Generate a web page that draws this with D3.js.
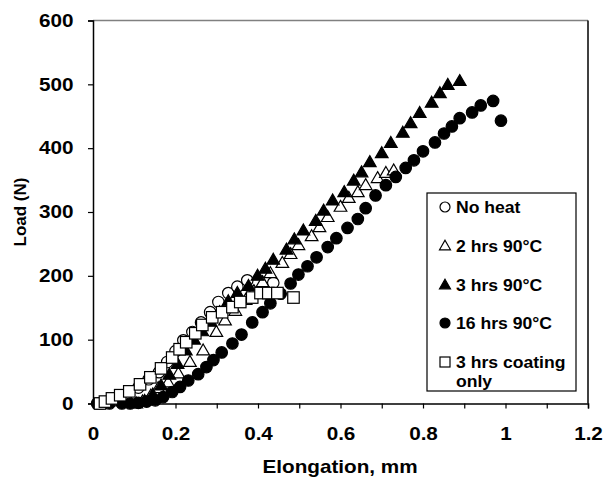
<!DOCTYPE html>
<html>
<head>
<meta charset="utf-8">
<script src="https://cdn.jsdelivr.net/npm/d3@7"></script>
<style>
  body { margin: 0; background: #fff; }
  text { font-family: Arial, "Liberation Sans", sans-serif; font-weight: bold; }
</style>
</head>
<body>
<div id="canvas"></div>
<script>
"use strict";

// ---- data ----
let noHeatX = [0.02, 0.05, 0.08, 0.11, 0.135, 0.16, 0.18, 0.20, 0.219, 0.241, 0.262, 0.284, 0.304, 0.328, 0.350, 0.374, 0.437];
let noHeatY = [0, 5, 12, 25, 38, 49, 65, 82, 99, 112, 127, 143, 159, 173, 183, 193, 189];

let twoHrsX = [0.12, 0.14, 0.158, 0.182, 0.207, 0.235, 0.267, 0.299, 0.32, 0.345, 0.37, 0.39, 0.411, 0.430, 0.459, 0.479, 0.498, 0.530, 0.549, 0.569, 0.600, 0.620, 0.642, 0.661, 0.690, 0.710, 0.729];
let twoHrsY = [3, 12, 24, 33, 47, 65, 83, 112, 130, 145, 162, 176, 190, 204, 220, 234, 248, 262, 276, 292, 308, 322, 331, 342, 353, 361, 365];

let threeHrsX = [0.105, 0.125, 0.145, 0.165, 0.185, 0.205, 0.225, 0.245, 0.265, 0.285, 0.307, 0.328, 0.350, 0.377, 0.399, 0.418, 0.437, 0.469, 0.488, 0.510, 0.540, 0.559, 0.581, 0.609, 0.632, 0.651, 0.671, 0.700, 0.722, 0.751, 0.770, 0.792, 0.821, 0.841, 0.860, 0.889];
let threeHrsY = [0, 4, 14, 28, 45, 62, 83, 100, 113, 128, 143, 160, 173, 184, 200, 211, 225, 241, 257, 271, 286, 302, 318, 331, 349, 362, 378, 392, 408, 424, 439, 455, 471, 486, 499, 505];

let sixteenHrsX = [0.01, 0.04, 0.07, 0.09, 0.11, 0.13, 0.151, 0.170, 0.192, 0.211, 0.231, 0.255, 0.275, 0.292, 0.312, 0.338, 0.36, 0.386, 0.411, 0.430, 0.455, 0.479, 0.498, 0.520, 0.542, 0.569, 0.590, 0.617, 0.642, 0.661, 0.685, 0.710, 0.734, 0.758, 0.778, 0.800, 0.829, 0.851, 0.870, 0.889, 0.919, 0.940, 0.970, 0.989];
let sixteenHrsY = [0, 0, 0, 0, 1, 3, 5, 10, 18, 26, 36, 46, 57, 68, 80, 94, 108, 127, 143, 157, 172, 188, 202, 215, 229, 245, 259, 275, 289, 306, 326, 342, 355, 369, 381, 395, 409, 423, 434, 447, 456, 467, 474, 443];

let coatingX = [0.017, 0.029, 0.046, 0.066, 0.088, 0.114, 0.139, 0.165, 0.192, 0.210, 0.226, 0.248, 0.265, 0.289, 0.313, 0.338, 0.357, 0.386, 0.406, 0.425, 0.447, 0.486];
let coatingY = [0, 3, 8, 13, 19, 30, 41, 55, 72, 85, 96, 110, 123, 135, 143, 151, 159, 166, 173, 173, 173, 166];

let seriesNames = ["No heat", "2 hrs 90°C", "3 hrs 90°C", "16 hrs 90°C", "3 hrs coating only"];
let xTicks = [0, 0.1, 0.2, 0.3, 0.4, 0.5, 0.6, 0.7, 0.8, 0.9, 1.0, 1.1, 1.2];
let yTicks = [0, 100, 200, 300, 400, 500, 600];

// ---- setup ----
let svgWidth = 603;
let svgHeight = 480;
let stretch = 1.15;   // the original lettering is a little wide

let svg = d3.select("#canvas")
    .append("svg")
    .attr("width", svgWidth)
    .attr("height", svgHeight);

let xScale = d3.scaleLinear().domain([0, 1.2]).range([93, 588]);
let yScale = d3.scaleLinear().domain([0, 600]).range([403.5, 20.5]);

function zip(xs, ys) {
    return xs.map((x, i) => ({ x: x, y: ys[i] }));
}

let series = [
    { name: seriesNames[0], shape: "circle", fill: "#fff", data: zip(noHeatX, noHeatY) },
    { name: seriesNames[1], shape: "triangle", fill: "#fff", data: zip(twoHrsX, twoHrsY) },
    { name: seriesNames[2], shape: "triangle", fill: "#000", data: zip(threeHrsX, threeHrsY) },
    { name: seriesNames[3], shape: "circle", fill: "#000", data: zip(sixteenHrsX, sixteenHrsY) },
    { name: seriesNames[4], shape: "square", fill: "#fff", data: zip(coatingX, coatingY) }
];

/* draw one marker */
function drawMarker(g, shape, cx, cy, size, fill) {
    if (shape === "circle") {
        g.append("circle")
            .attr("cx", cx).attr("cy", cy).attr("r", size / 2)
            .attr("fill", fill).attr("stroke", "#000").attr("stroke-width", 1.2);
    } else if (shape === "square") {
        g.append("rect")
            .attr("x", cx - size / 2).attr("y", cy - size / 2)
            .attr("width", size).attr("height", size)
            .attr("fill", fill).attr("stroke", "#000").attr("stroke-width", 1.2);
    } else {
        let w = size * 1.1;
        let h = size * 0.95;
        g.append("path")
            .attr("d", "M" + cx + "," + (cy - h * 0.6) +
                " L" + (cx + w / 2) + "," + (cy + h * 0.4) +
                " L" + (cx - w / 2) + "," + (cy + h * 0.4) + " Z")
            .attr("fill", fill).attr("stroke", "#000").attr("stroke-width", 1.2);
    }
}

/* ---- frame ---- */
svg.append("line")
    .attr("x1", xScale(0)).attr("x2", xScale(1.2))
    .attr("y1", yScale(600)).attr("y2", yScale(600))
    .attr("stroke", "#808080").attr("stroke-width", 1.5);
svg.append("line")
    .attr("x1", xScale(1.2)).attr("x2", xScale(1.2))
    .attr("y1", yScale(600)).attr("y2", yScale(0))
    .attr("stroke", "#000").attr("stroke-width", 1.5);

/* ---- axes ---- */
let xAxis = d3.axisBottom(xScale)
    .tickValues(xTicks)
    .tickSize(5)
    .tickPadding(19)
    .tickFormat(d => (Math.round(d * 10) % 2 === 0) ? String(+d.toFixed(1)) : "");

let gx = svg.append("g")
    .attr("transform", "translate(0," + yScale(0) + ")")
    .call(xAxis);

let yAxis = d3.axisLeft(yScale)
    .tickValues(yTicks)
    .tickSize(5)
    .tickPadding(14);

let gy = svg.append("g")
    .attr("transform", "translate(" + xScale(0) + ",0)")
    .call(yAxis);

[gx, gy].forEach(function (g) {
    g.select(".domain").attr("stroke", "#000").attr("stroke-width", 1.5);
    g.selectAll(".tick line").attr("stroke", "#000").attr("stroke-width", 1.2);
    g.selectAll("text")
        .attr("fill", "#000")
        .style("font-family", "Arial, 'Liberation Sans', sans-serif")
        .style("font-weight", "bold")
        .style("font-size", "18px");
});

gx.selectAll(".tick text").attr("transform", "scale(" + stretch + ",1)");
gy.selectAll(".tick text")
    .attr("x", -19.5 / stretch)
    .attr("transform", "scale(" + stretch + ",1)");

svg.append("text")
    .attr("transform", "translate(340,473) scale(" + stretch + ",1)")
    .attr("text-anchor", "middle")
    .attr("font-size", "18px")
    .text("Elongation, mm");

svg.append("text")
    .attr("transform", "translate(26,212) rotate(-90)")
    .attr("text-anchor", "middle")
    .attr("font-size", "17px")
    .text("Load (N)");

/* ---- markers ---- */
let markersLayer = svg.append("g");
series.forEach(function (s) {
    let g = markersLayer.append("g");
    s.data.forEach(function (d) {
        drawMarker(g, s.shape, xScale(d.x), yScale(d.y), 11.5, s.fill);
    });
});

/* ---- legend ---- */
let legendX = 427;
let legendY = 193;
let legendW = 149;
let legendH = 198;

svg.append("rect")
    .attr("x", legendX).attr("y", legendY)
    .attr("width", legendW).attr("height", legendH)
    .attr("fill", "#fff").attr("stroke", "#000").attr("stroke-width", 1.2);

let legendRows = [207, 246, 285, 323, 362];
series.forEach(function (s, i) {
    let g = svg.append("g");
    drawMarker(g, s.shape, legendX + 18, legendRows[i], 10, s.fill);
    let t = svg.append("text")
        .attr("transform", "translate(" + (legendX + 29) + "," + (legendRows[i] + 6) + ") scale(1.1,1)")
        .attr("font-size", "16px");
    if (i === 4) {
        t.append("tspan").text("3 hrs coating");
        t.append("tspan").attr("x", 0).attr("dy", 19).text("only");
    } else {
        t.text(s.name);
    }
});
</script>
</body>
</html>
